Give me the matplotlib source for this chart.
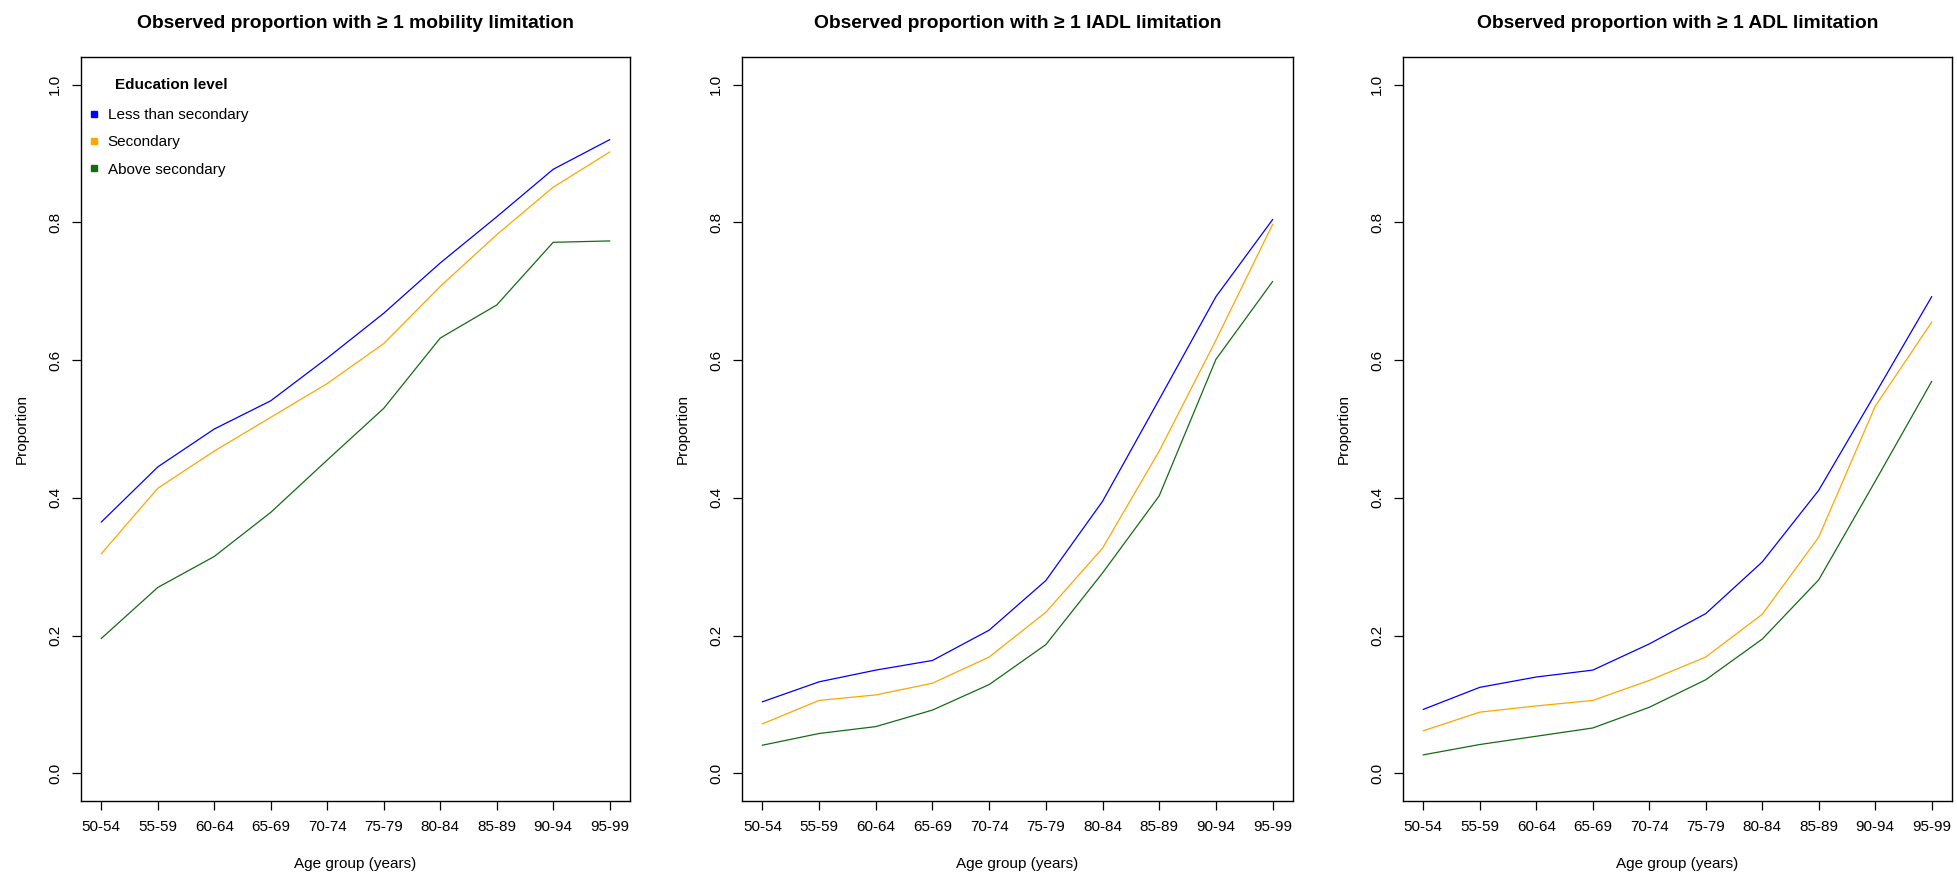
import numpy as np
import matplotlib
matplotlib.use("Agg")
import matplotlib.pyplot as plt
from matplotlib.lines import Line2D

plt.rcParams['font.family'] = ['Liberation Sans', 'DejaVu Sans']

age_groups = ["50-54", "55-59", "60-64", "65-69", "70-74",
              "75-79", "80-84", "85-89", "90-94", "95-99"]
edu_levels = ["Less than secondary", "Secondary", "Above secondary"]
colors = ["#0000FF", "#FFA500", "#146C14"]

titles = ["Observed proportion with \u2265 1 mobility limitation",
          "Observed proportion with \u2265 1 IADL limitation",
          "Observed proportion with \u2265 1 ADL limitation"]

# mobility
mob_less = [0.365, 0.445, 0.500, 0.541, 0.603, 0.668, 0.741, 0.808, 0.877, 0.920]
mob_sec = [0.319, 0.414, 0.468, 0.517, 0.566, 0.624, 0.707, 0.782, 0.851, 0.902]
mob_above = [0.196, 0.270, 0.315, 0.379, 0.455, 0.530, 0.632, 0.680, 0.771, 0.773]

# IADL
iadl_less = [0.104, 0.133, 0.150, 0.164, 0.208, 0.280, 0.395, 0.543, 0.692, 0.804]
iadl_sec = [0.072, 0.106, 0.114, 0.131, 0.169, 0.234, 0.327, 0.468, 0.629, 0.797]
iadl_above = [0.041, 0.058, 0.068, 0.092, 0.129, 0.187, 0.291, 0.403, 0.601, 0.714]

# ADL
adl_less = [0.093, 0.125, 0.140, 0.150, 0.188, 0.232, 0.307, 0.411, 0.551, 0.692]
adl_sec = [0.062, 0.089, 0.098, 0.106, 0.135, 0.169, 0.231, 0.343, 0.533, 0.655]
adl_above = [0.027, 0.042, 0.054, 0.066, 0.096, 0.136, 0.195, 0.281, 0.424, 0.569]

panels = [
    [mob_less, mob_sec, mob_above],
    [iadl_less, iadl_sec, iadl_above],
    [adl_less, adl_sec, adl_above],
]

W, H = 1957, 876
fig = plt.figure(figsize=(W / 100, H / 100), dpi=100)

lefts = [81, 742, 1403]
widths = [549, 551, 549]
bottom = (H - 801) / H
height = (801 - 57) / H

x = np.arange(1, len(age_groups) + 1)

for i, series in enumerate(panels):
    ax = fig.add_axes([lefts[i] / W, bottom, widths[i] / W, height])
    for vals, col in zip(series, colors):
        ax.plot(x, vals, color=col, lw=0.9)
    ax.set_xlim(0.64, 10.36)
    ax.set_ylim(-0.04, 1.04)
    ax.set_xticks(x)
    ax.set_xticklabels(age_groups, fontsize=11)
    ax.set_yticks([0.0, 0.2, 0.4, 0.6, 0.8, 1.0])
    ax.set_yticklabels(["0.0", "0.2", "0.4", "0.6", "0.8", "1.0"],
                       rotation=90, va="center", fontsize=11)
    ax.tick_params(direction="out", length=6.5, width=0.9, pad=7)
    for sp in ax.spines.values():
        sp.set_linewidth(1.0)
    ax.set_xlabel("Age group (years)", fontsize=11, labelpad=17)
    ax.set_ylabel("Proportion", fontsize=11, labelpad=14)
    ax.set_title(titles[i], fontsize=13.9, fontweight="bold", pad=21)

    if i == 0:
        handles = [Line2D([], [], ls="none", marker="s", markersize=4,
                          color=c) for c in colors]
        ax.legend(handles, edu_levels, loc="upper left",
                  bbox_to_anchor=(0.0153, 0.931), frameon=False,
                  fontsize=11, handlelength=0.6, handletextpad=0.6,
                  labelspacing=0.86, borderaxespad=0, borderpad=0)
        ax.text(0.164, 0.963, "Education level", transform=ax.transAxes,
                ha="center", va="center", fontsize=11, fontweight="bold")

fig.savefig("out.png", dpi=100)
